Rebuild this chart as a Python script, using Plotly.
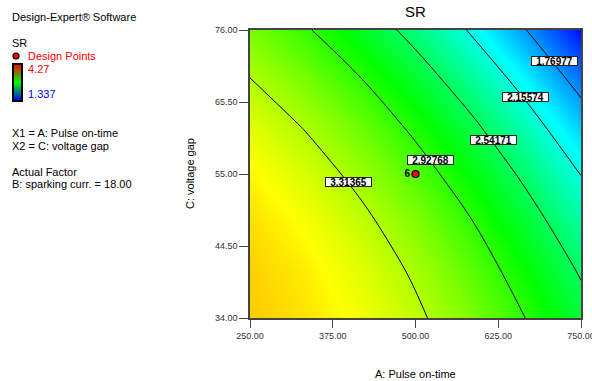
import plotly.graph_objects as go

# ---------------- data ----------------
A_vals = [250, 333.33, 416.67, 500, 583.33, 666.67, 750]   # A: Pulse on-time
C_vals = [34, 41, 48, 55, 62, 69, 76]                       # C: voltage gap
SR_grid = [                                                  # rows follow C_vals
    [3.688, 3.619, 3.508, 3.356, 3.161, 2.925, 2.648],
    [3.674, 3.585, 3.454, 3.281, 3.066, 2.810, 2.512],
    [3.630, 3.520, 3.369, 3.176, 2.941, 2.664, 2.346],
    [3.556, 3.425, 3.254, 3.040, 2.785, 2.487, 2.149],
    [3.450, 3.300, 3.108, 2.874, 2.598, 2.280, 1.921],
    [3.314, 3.143, 2.931, 2.676, 2.380, 2.042, 1.663],
    [3.148, 2.956, 2.723, 2.449, 2.132, 1.774, 1.374],
]
contour_levels = [1.76977, 2.15574, 2.54171, 2.92768, 3.31365]
design_A = [500]
design_C = [55]
design_count = ["6"]
SR_max = 4.27
SR_min = 1.337
x_ticks = [250, 375, 500, 625, 750]
y_ticks = [34, 44.5, 55, 65.5, 76]

# label placement (layout, not data)
label_pos = [(710.4, 71.5), (665.8, 66.2), (617.2, 59.9), (523.4, 57.0), (398.2, 53.9)]

FONT = "Arial, Liberation Sans, sans-serif"
W, H = 592, 381
L, R, T, B = 250, 11, 30, 63
PW, PH = W - L - R, H - T - B

def px(x):
    return (x - L) / PW

def py(y):
    return (H - B - y) / PH

cscale = [[0, "rgb(0,0,255)"], [0.25, "rgb(0,255,255)"], [0.5, "rgb(0,255,0)"],
          [0.75, "rgb(255,255,0)"], [1, "rgb(255,0,0)"]]

fig = go.Figure()
fig.add_trace(go.Heatmap(
    x=A_vals, y=C_vals, z=SR_grid, zsmooth="best", colorscale=cscale,
    zmin=SR_min, zmax=SR_max, hoverinfo="skip", showscale=False,
))
fig.add_trace(go.Contour(
    x=A_vals, y=C_vals, z=SR_grid, showscale=False, hoverinfo="skip",
    contours=dict(start=contour_levels[0], end=contour_levels[-1],
                  size=(contour_levels[-1] - contour_levels[0]) / (len(contour_levels) - 1),
                  coloring="none"),
    line=dict(color="black", width=1, smoothing=1.0),
))
fig.add_trace(go.Scatter(
    x=design_A, y=design_C, mode="markers+text", text=design_count,
    textposition="middle left", textfont=dict(family=FONT, size=10, color="black", weight="bold"),
    marker=dict(size=7, color="red", line=dict(color="black", width=1.2)),
    hoverinfo="skip", showlegend=False,
))

ann = []
for lev, (lx, ly) in zip(contour_levels, label_pos):
    ann.append(dict(x=lx, y=ly, xref="x", yref="y", text="%.5f" % lev, showarrow=False,
                    font=dict(family=FONT, size=10, color="black", weight="bold"), bgcolor="white",
                    bordercolor="#222", borderwidth=1, borderpad=0, width=45, height=8))

def txt(x, y, s, size=11, color="black"):
    ann.append(dict(x=px(x), y=py(y), xref="paper", yref="paper", text=s, showarrow=False,
                    xanchor="left", yanchor="middle", font=dict(family=FONT, size=size, color=color)))

txt(10, 17, "Design-Expert® Software")
txt(10, 43, "SR")
txt(26, 56, "Design Points", color="red")
txt(26, 69, "4.27", color="red")
txt(26, 94, "1.337", color="blue")
txt(10, 133, "X1 = A: Pulse on-time")
txt(10, 146, "X2 = C: voltage gap")
txt(10, 172, "Actual Factor")
txt(10, 184, "B: sparking curr. = 18.00")

ann.append(dict(x=0.5, y=py(374), xref="paper", yref="paper", text="A: Pulse on-time",
                showarrow=False, xanchor="center", yanchor="middle",
                font=dict(family=FONT, size=11, color="black")))
ann.append(dict(x=px(190), y=0.5, xref="paper", yref="paper", text="C: voltage gap",
                showarrow=False, xanchor="center", yanchor="middle", textangle=-90,
                font=dict(family=FONT, size=11, color="black")))

# legend marker
shapes = [dict(type="circle", xref="paper", yref="paper",
               x0=px(13), x1=px(19), y0=py(53), y1=py(59),
               fillcolor="red", line=dict(color="black", width=1.2))]

# small legend colour bar (red -> green -> blue), drawn as thin strips
bar_top, bar_bot, bar_l, bar_r = 64, 101, 13, 22
n = bar_bot - bar_top
for i in range(n):
    f = (i + 0.5) / n  # 0 at top (red) -> 1 at bottom (blue)
    if f < 0.5:
        t = f / 0.5
        col = (int(255 * (1 - t)), int(255 * t), 0)
    else:
        t = (f - 0.5) / 0.5
        col = (0, int(255 * (1 - t)), int(255 * t))
    shapes.append(dict(type="rect", xref="paper", yref="paper",
                       x0=px(bar_l), x1=px(bar_r), y0=py(bar_top + i + 1.05), y1=py(bar_top + i),
                       fillcolor="rgb(%d,%d,%d)" % col, line=dict(width=0)))
shapes.append(dict(type="rect", xref="paper", yref="paper",
                   x0=px(bar_l), x1=px(bar_r), y0=py(bar_bot), y1=py(bar_top),
                   fillcolor="rgba(0,0,0,0)", line=dict(color="black", width=2)))

axis_common = dict(showline=True, mirror=True, linecolor="#444", linewidth=1.5,
                   ticks="outside", tickcolor="#444", tickwidth=1, showgrid=False,
                   zeroline=False, tickformat=".2f", ticklabeloverflow="allow",
                   tickfont=dict(family=FONT, size=9, color="#333"))

fig.update_layout(
    width=W, height=H, margin=dict(l=L, r=R, t=T, b=B, autoexpand=False),
    paper_bgcolor="white", plot_bgcolor="white", showlegend=False,
    title=dict(text="SR", x=(L + PW / 2) / W, xanchor="center", y=1 - 12 / H, yanchor="middle",
               font=dict(family=FONT, size=15, color="black")),
    xaxis=dict(range=[250, 750], tickvals=x_ticks, ticklen=8, **axis_common),
    yaxis=dict(range=[34, 76], tickvals=y_ticks, ticklen=9, **axis_common),
    annotations=ann, shapes=shapes,
)

fig.write_html("out.html", config={"displayModeBar": False},
               post_script="document.body.style.margin='0';")
